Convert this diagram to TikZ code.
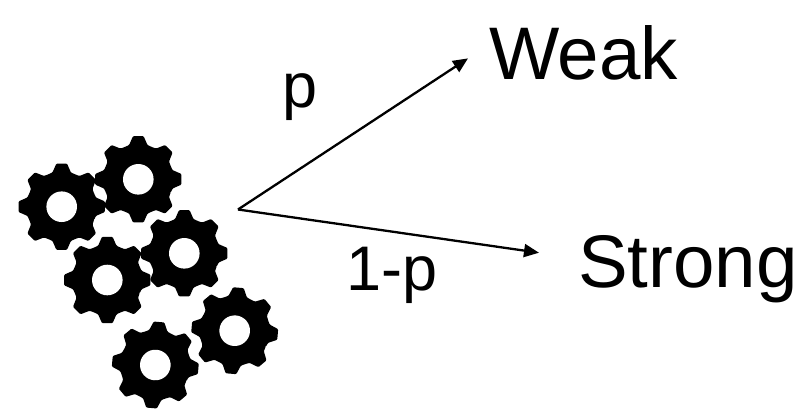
\documentclass[tikz,border=0pt]{standalone}
\usepackage{fontspec}
\setmainfont{Liberation Sans}
\usetikzlibrary{arrows.meta,positioning}
\tikzset{
  gear/.pic={
    \fill[black,even odd rule,rounded corners=1pt]
      (-22.5:35pt)
      \foreach \a in {0,45,...,315}{
        -- (\a-15:35.5pt) -- (\a-7:43.5pt) -- (\a+7:43.5pt) -- (\a+15:35.5pt) -- (\a+22.5:35pt)
      } -- cycle;
    \fill[white] (0,0) circle (15.3pt);
  }
}
\begin{document}
\begin{tikzpicture}[x=1pt,y=-1pt,>=Stealth,
    bigtext/.style={font=\fontsize{74.5}{80}\selectfont,inner sep=0pt,outer sep=0pt,anchor=base west},
    problabel/.style={font=\fontsize{63}{68}\selectfont,inner sep=0pt,outer sep=0pt,anchor=base west},
    link/.style={line width=2.3pt,-{Stealth[length=15pt,width=13pt,inset=0pt]}}]
  \useasboundingbox (0,0) rectangle (805,408);
  % gears
  \pic at (61.7,206.7) {gear};
  \pic at (138.3,179.3) {gear};
  \pic at (184.3,253.3) {gear};
  \pic at (107.3,280) {gear};
  \pic[rotate=-5] at (234.7,330.7) {gear};
  \pic[rotate=-5] at (155.3,365) {gear};
  % outcomes
  \coordinate (src) at (238,209.5);
  \node[bigtext] (weak) at (489,79) {Weak};
  \node[bigtext] (strong) at (578,287) {Strong};
  \node[problabel] (plabel) at (282,107) {p};
  \node[problabel] (qlabel) at (346,290) {1-p};
  \draw[link] (src) -- ([xshift=-21pt,yshift=-6pt]weak.west);
  \draw[link] (src) -- ([xshift=-39pt,yshift=16pt]strong.west);
\end{tikzpicture}
\end{document}
